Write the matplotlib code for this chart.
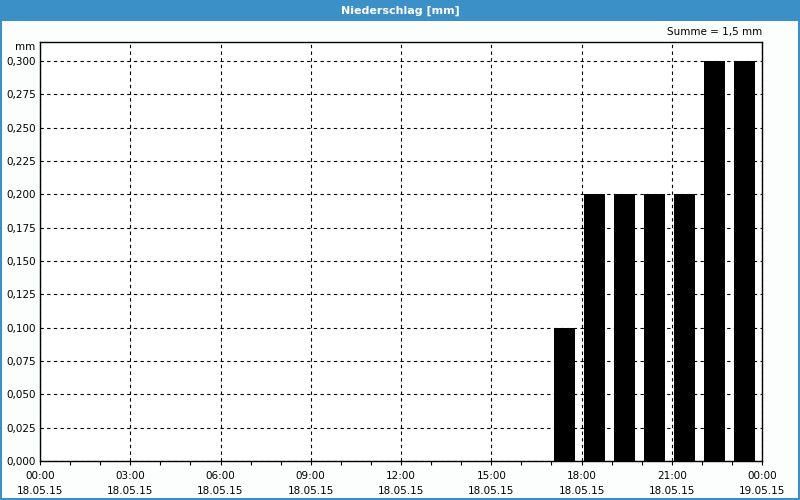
import matplotlib
matplotlib.use("Agg")
import matplotlib.pyplot as plt
from matplotlib.patches import Rectangle
import numpy as np

# Stundenwerte Niederschlag 18.05.15 (Stunde, mm)
stunden = [17, 18, 19, 20, 21, 22, 23]
niederschlag = [0.1, 0.2, 0.2, 0.2, 0.2, 0.3, 0.3]
x_ticks = [0, 3, 6, 9, 12, 15, 18, 21, 24]
x_labels = ["00:00\n18.05.15", "03:00\n18.05.15", "06:00\n18.05.15",
            "09:00\n18.05.15", "12:00\n18.05.15", "15:00\n18.05.15",
            "18:00\n18.05.15", "21:00\n18.05.15", "00:00\n19.05.15"]
y_ticks = np.arange(0, 0.3001, 0.025)

blau = "#3c90c8"

fig = plt.figure(figsize=(8, 5), dpi=100)
fig.patch.set_facecolor("#fcfefe")

# Titelleiste und Rahmen
fig.patches.append(Rectangle((0, 1 - 21 / 500), 1, 21 / 500, transform=fig.transFigure,
                             facecolor=blau, edgecolor="none", zorder=0))
fig.patches.append(Rectangle((0.001, 0.002), 0.998, 0.996, transform=fig.transFigure,
                             facecolor="none", edgecolor=blau, linewidth=1.5, zorder=1))
fig.text(0.5, 1 - 10.5 / 500, "Niederschlag [mm]", color="white", fontsize=8,
         fontweight="bold", ha="center", va="center")

ax = fig.add_axes([40 / 800, 39 / 500, 722 / 800, 419 / 500])
ax.set_facecolor("white")

ax.bar(np.array(stunden) + 0.08, niederschlag, width=0.7, align="edge",
       color="black", zorder=3)

ax.set_xlim(0, 24)
ax.set_ylim(0, 0.3143)
ax.set_xticks(x_ticks)
ax.set_xticklabels(x_labels, fontsize=7.5, linespacing=1.6)
ax.set_xticks(range(25), minor=True)
ax.set_yticks(y_ticks)
ax.set_yticklabels([f"{v:.3f}".replace(".", ",") for v in y_ticks], fontsize=7.5)
ax.tick_params(axis="x", which="both", direction="out", length=3, width=0.8, pad=4)
ax.tick_params(axis="y", length=0, pad=3)

ax.grid(True, which="major", color="black", linestyle=(0, (3, 3)), linewidth=0.8, zorder=1)
for s in ax.spines.values():
    s.set_linewidth(1)
    s.set_color("black")

fig.text(35 / 800, 1 - 47 / 500, "mm", fontsize=7.5, ha="right", va="center")
fig.text(762 / 800, 1 - 32 / 500, "Summe = 1,5 mm", fontsize=7.5, ha="right", va="center")

fig.savefig("out.png", dpi=100, facecolor=fig.get_facecolor())
